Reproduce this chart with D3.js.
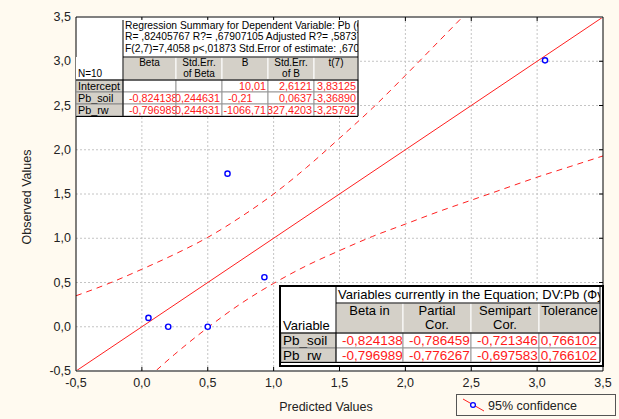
<!DOCTYPE html>
<html>
<head>
<meta charset="utf-8">
<script src="https://cdn.jsdelivr.net/npm/d3@7"></script>
<style>
  body { margin: 0; background: #fffaf0; }
  svg { display: block; font-family: "Liberation Sans", Arial, sans-serif; }
</style>
</head>
<body>
<svg id="chart" width="619" height="419"></svg>
<script>
// ticks
const axisTicks = [-0.5, 0, 0.5, 1, 1.5, 2, 2.5, 3, 3.5];

// observed vs predicted points
const predicted = [0.05, 0.20, 0.50, 0.65, 0.93, 3.06];
const observed  = [0.10, 0.00, 0.00, 1.73, 0.56, 3.01];

// 95% confidence band
const bandX     = [-0.5, -0.25, 0, 0.25, 0.5, 0.75, 1, 1.25, 1.5, 1.75, 2, 2.25, 2.5, 2.75, 3, 3.25, 3.5];
const bandUpper = [0.35, 0.49, 0.65, 0.82, 1.01, 1.24, 1.50, 1.80, 2.13, 2.47, 2.84, 3.22, 3.60, 3.97, 4.35, 4.72, 5.10];
const bandLower = [-1.34, -0.98, -0.64, -0.31, -0.01, 0.26, 0.49, 0.69, 0.86, 1.02, 1.16, 1.30, 1.43, 1.56, 1.69, 1.81, 1.93];

// regression summary table
const summaryTitle = [
  "Regression Summary for Dependent Variable: Pb (Фу",
  "R= ,82405767 R?= ,67907105 Adjusted R?= ,58737",
  "F(2,7)=7,4058 p<,01873 Std.Error of estimate: ,6706"
];
const summaryCols = [["Beta"], ["Std.Err.", "of Beta"], ["B"], ["Std.Err.", "of B"], ["t(7)"]];
const summaryRows = ["Intercept", "Pb_soil", "Pb_rw"];
const summaryValues = [
  ["", "", "10,01", "2,6121", "3,83125"],
  ["-0,824138", "0,244631", "-0,21", "0,0637", "-3,36890"],
  ["-0,796989", "0,244631", "-1066,71", "327,4203", "-3,25792"]
];

// variables in the equation table
const eqTitle = "Variables currently in the Equation; DV:Pb (Фу.";
const eqCols = [["Beta in"], ["Partial", "Cor."], ["Semipart", "Cor."], ["Tolerance"]];
const eqRows = ["Pb_soil", "Pb_rw"];
const eqValues = [
  ["-0,824138", "-0,786459", "-0,721346", "0,766102"],
  ["-0,796989", "-0,776267", "-0,697583", "0,766102"]
];

const svg = d3.select("#chart");
const fmt = d => d3.format(".1f")(d).replace(".", ",").replace("−", "-");

const pLeft = 76, pRight = 603, pTop = 17, pBottom = 371;
const x = d3.scaleLinear().domain([-0.5, 3.5]).range([pLeft, pRight]);
const y = d3.scaleLinear().domain([-0.5, 3.5]).range([pBottom, pTop]);

svg.append("rect").attr("x", pLeft).attr("y", pTop)
  .attr("width", pRight - pLeft).attr("height", pBottom - pTop).attr("fill", "#fff");

const defs = svg.append("defs");
defs.append("clipPath").attr("id", "plotclip").append("rect")
  .attr("x", pLeft).attr("y", pTop).attr("width", pRight - pLeft).attr("height", pBottom - pTop);

// grid
const inner = axisTicks.slice(1, -1);
svg.append("g").selectAll("line").data(inner).join("line")
  .attr("x1", d => x(d)).attr("x2", d => x(d)).attr("y1", pTop).attr("y2", pBottom)
  .attr("stroke", "#c4c4c4").attr("stroke-dasharray", "2,2");
svg.append("g").selectAll("line").data(inner).join("line")
  .attr("y1", d => y(d)).attr("y2", d => y(d)).attr("x1", pLeft).attr("x2", pRight)
  .attr("stroke", "#c4c4c4").attr("stroke-dasharray", "2,2");

// lines
const plot = svg.append("g").attr("clip-path", "url(#plotclip)");
const line = d3.line().x(d => x(d[0])).y(d => y(d[1])).curve(d3.curveMonotoneX);
plot.append("path").attr("d", line([[-0.5, -0.5], [3.5, 3.5]]))
  .attr("fill", "none").attr("stroke", "#ff2020").attr("stroke-width", 1);
plot.append("path").attr("d", line(bandX.map((d, i) => [d, bandUpper[i]])))
  .attr("fill", "none").attr("stroke", "#ff2020").attr("stroke-dasharray", "6,5");
plot.append("path").attr("d", line(bandX.map((d, i) => [d, bandLower[i]])))
  .attr("fill", "none").attr("stroke", "#ff2020").attr("stroke-dasharray", "6,5");

plot.append("g").selectAll("circle").data(predicted).join("circle")
  .attr("cx", d => x(d)).attr("cy", (d, i) => y(observed[i])).attr("r", 2.6)
  .attr("fill", "#fff").attr("stroke", "#0000ff").attr("stroke-width", 1.4);

// frame
svg.append("line").attr("x1", pLeft).attr("x2", pRight).attr("y1", pTop).attr("y2", pTop)
  .attr("stroke", "#808080").attr("stroke-width", 2);
svg.append("line").attr("x1", pLeft).attr("x2", pRight).attr("y1", pBottom).attr("y2", pBottom)
  .attr("stroke", "#808080").attr("stroke-width", 2);
svg.append("line").attr("x1", pLeft).attr("x2", pLeft).attr("y1", pTop).attr("y2", pBottom).attr("stroke", "#000");
svg.append("line").attr("x1", pRight).attr("x2", pRight).attr("y1", pTop).attr("y2", pBottom).attr("stroke", "#000");

// small tick marks inside frame
svg.append("g").selectAll("line").data(inner).join("line")
  .attr("x1", d => x(d)).attr("x2", d => x(d)).attr("y1", pBottom - 4).attr("y2", pBottom).attr("stroke", "#000");
svg.append("g").selectAll("line").data(inner).join("line")
  .attr("x1", d => x(d)).attr("x2", d => x(d)).attr("y1", pTop).attr("y2", pTop + 4).attr("stroke", "#000");
svg.append("g").selectAll("line").data(inner).join("line")
  .attr("y1", d => y(d)).attr("y2", d => y(d)).attr("x1", pRight - 4).attr("x2", pRight).attr("stroke", "#000");

// tick labels
svg.append("g").selectAll("text").data(axisTicks).join("text")
  .attr("x", d => x(d)).attr("y", pBottom + 16).attr("text-anchor", "middle")
  .attr("font-size", 12.5).attr("fill", "#222").text(fmt);
svg.append("g").selectAll("text").data(axisTicks).join("text")
  .attr("x", pLeft - 5).attr("y", d => y(d) + 4).attr("text-anchor", "end")
  .attr("font-size", 12.5).attr("fill", "#222").text(fmt);

// axis titles
svg.append("text").attr("x", 326).attr("y", 411).attr("text-anchor", "middle")
  .attr("font-size", 12.5).attr("fill", "#222").text("Predicted Values");
svg.append("text").attr("transform", "translate(31,197) rotate(-90)").attr("text-anchor", "middle")
  .attr("font-size", 12.5).attr("fill", "#222").text("Observed Values");

// table helper
let clipId = 0;
function cell(g, x0, y0, w, h, fill, stroke) {
  g.append("rect").attr("x", x0).attr("y", y0).attr("width", w).attr("height", h)
    .attr("fill", fill).attr("stroke", stroke || "none");
}
function cellText(g, x0, y0, w, h, lines, opts) {
  const id = "c" + (clipId++);
  const lh = opts.lh || 0;
  defs.append("clipPath").attr("id", id).append("rect")
    .attr("x", x0).attr("y", y0).attr("width", w).attr("height", h);
  const t = g.append("text").attr("clip-path", `url(#${id})`)
    .attr("font-size", opts.size).attr("fill", opts.color || "#000");
  lines.forEach((s, i) => {
    let tx = x0 + 2, anchor = "start";
    if (opts.align === "middle") { tx = x0 + w / 2; anchor = "middle"; }
    if (opts.align === "end") { tx = x0 + w - 2; anchor = "end"; }
    if (opts.align === "over") { tx = x0 + 6; }
    t.append("tspan").attr("x", tx).attr("y", y0 + opts.base + i * lh)
      .attr("text-anchor", anchor).text(s);
  });
}

// regression summary table
{
  const g = svg.append("g");
  const colX = [123, 176, 222, 268, 314, 358];
  const rowY = [80, 92, 104, 116];
  const gray = "#d4d0c8";
  cell(g, colX[0], 20, colX[5] - colX[0], 37, "#fff");
  cellText(g, colX[0], 20, colX[5] - colX[0], 37, summaryTitle, { size: 10.3, base: 9, lh: 11.3 });
  cell(g, pLeft, 57, colX[0] - pLeft, 23, "#fff");
  cellText(g, pLeft, 57, colX[0] - pLeft, 23, ["N=10"], { size: 10, base: 20 });
  summaryCols.forEach((c, j) => {
    cell(g, colX[j], 57, colX[j + 1] - colX[j], 23, gray, "#fff");
    cellText(g, colX[j], 57, colX[j + 1] - colX[j], 23, c, { size: 10, align: "middle", base: 9, lh: 11 });
  });
  summaryRows.forEach((r, i) => {
    cell(g, pLeft, rowY[i], colX[0] - pLeft, 12, gray, "#888");
    cellText(g, pLeft, rowY[i], colX[0] - pLeft, 12, [r], { size: 10.8, base: 10 });
    summaryValues[i].forEach((v, j) => {
      cell(g, colX[j], rowY[i], colX[j + 1] - colX[j], 12, "#fff", "#999");
      cellText(g, colX[j], rowY[i], colX[j + 1] - colX[j], 12, [v],
        { size: 10.8, color: "#ff1a1a", align: v.startsWith("-0") ? "over" : "end", base: 10 });
    });
  });
  g.append("line").attr("x1", colX[0]).attr("x2", colX[0]).attr("y1", 20).attr("y2", 116).attr("stroke", "#000");
  g.append("line").attr("x1", colX[5]).attr("x2", colX[5]).attr("y1", 20).attr("y2", 116).attr("stroke", "#000");
  g.append("line").attr("x1", pLeft).attr("x2", colX[5]).attr("y1", 116.5).attr("y2", 116.5).attr("stroke", "#000");
  g.append("line").attr("x1", pLeft).attr("x2", colX[5]).attr("y1", 80).attr("y2", 80).attr("stroke", "#000");
  g.append("line").attr("x1", colX[0]).attr("x2", colX[5]).attr("y1", 57).attr("y2", 57).attr("stroke", "#000");
}

// variables in the equation table
{
  const g = svg.append("g");
  const colX = [281, 336, 403, 471, 539, 600];
  const rowY = [333, 348, 362];
  const gray = "#d4d0c8";
  cell(g, 280, 286, 323, 80, "#fff", "#000");
  cell(g, colX[1], 286, colX[5] - colX[1], 17, "#fff");
  cellText(g, colX[1], 286, colX[5] - colX[1], 17, [eqTitle], { size: 13, base: 13 });
  cellText(g, colX[0], 303, colX[1] - colX[0], 30, ["Variable"], { size: 13, base: 27 });
  eqCols.forEach((c, j) => {
    cell(g, colX[j + 1], 303, colX[j + 2] - colX[j + 1], 30, gray, "#fff");
    cellText(g, colX[j + 1], 303, colX[j + 2] - colX[j + 1], 30, c, { size: 13, align: "middle", base: 12, lh: 14 });
  });
  eqRows.forEach((r, i) => {
    const h = rowY[i + 1] - rowY[i];
    cell(g, colX[0], rowY[i], colX[1] - colX[0], h, gray, "#888");
    cellText(g, colX[0], rowY[i], colX[1] - colX[0], h, [r], { size: 13.5, base: 12 });
    eqValues[i].forEach((v, j) => {
      cell(g, colX[j + 1], rowY[i], colX[j + 2] - colX[j + 1], h, "#fff", "#999");
      cellText(g, colX[j + 1], rowY[i], colX[j + 2] - colX[j + 1] - 1, h, [v],
        { size: 13.5, color: "#ff1a1a", align: v.startsWith("-") ? "over" : "end", base: 12 });
    });
  });
  g.append("line").attr("x1", colX[1]).attr("x2", colX[1]).attr("y1", 286).attr("y2", 362).attr("stroke", "#000");
  g.append("line").attr("x1", colX[1]).attr("x2", colX[5]).attr("y1", 303).attr("y2", 303).attr("stroke", "#000");
  g.append("line").attr("x1", colX[0]).attr("x2", colX[5]).attr("y1", 333).attr("y2", 333).attr("stroke", "#000");
  g.append("line").attr("x1", colX[0]).attr("x2", colX[5]).attr("y1", 362.5).attr("y2", 362.5).attr("stroke", "#000");
  g.append("line").attr("x1", colX[5]).attr("x2", colX[5]).attr("y1", 286).attr("y2", 362).attr("stroke", "#000");
  g.append("rect").attr("x", 280).attr("y", 286).attr("width", 323).attr("height", 80)
    .attr("fill", "none").attr("stroke", "#000").attr("stroke-width", 2);
}

// legend
{
  const g = svg.append("g");
  g.append("rect").attr("x", 456.5).attr("y", 394.5).attr("width", 159).attr("height", 21)
    .attr("fill", "#fffaf0").attr("stroke", "#555");
  g.append("line").attr("x1", 463).attr("y1", 399).attr("x2", 484).attr("y2", 411)
    .attr("stroke", "#ff2020");
  g.append("circle").attr("cx", 473).attr("cy", 405).attr("r", 2.4)
    .attr("fill", "#fff").attr("stroke", "#0000ff").attr("stroke-width", 1.3);
  g.append("text").attr("x", 488).attr("y", 410).attr("font-size", 12.5).attr("fill", "#222")
    .text("95% confidence");
}
</script>
</body>
</html>
